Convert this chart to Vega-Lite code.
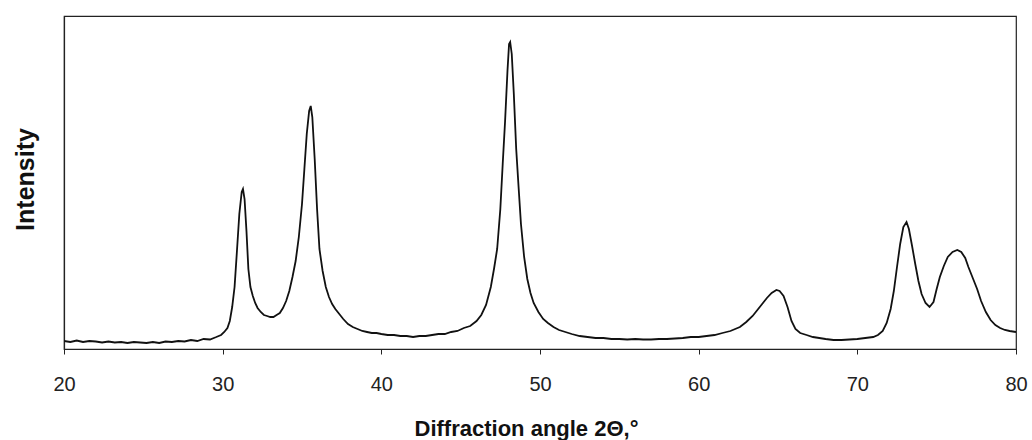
{
  "$schema": "https://vega.github.io/schema/vega-lite/v6.json",
  "width": 952,
  "height": 333,
  "autosize": {"type": "none"},
  "padding": {"left": 64, "top": 16, "right": 16, "bottom": 91},
  "background": "white",
  "config": {
    "view": {"stroke": "#222", "strokeWidth": 1.2},
    "font": "Liberation Sans"
  },
  "data": {
    "values": [
      {"angle": 20.0, "intensity": 8}, {"angle": 20.4, "intensity": 7}, {"angle": 20.8, "intensity": 8.5},
      {"angle": 21.2, "intensity": 7}, {"angle": 21.6, "intensity": 8}, {"angle": 22.0, "intensity": 7.5},
      {"angle": 22.4, "intensity": 6.5}, {"angle": 22.8, "intensity": 7.5}, {"angle": 23.2, "intensity": 6.5},
      {"angle": 23.6, "intensity": 7}, {"angle": 24.0, "intensity": 6}, {"angle": 24.4, "intensity": 7},
      {"angle": 24.8, "intensity": 6.5}, {"angle": 25.2, "intensity": 6}, {"angle": 25.6, "intensity": 7},
      {"angle": 26.0, "intensity": 6}, {"angle": 26.4, "intensity": 7.5}, {"angle": 26.8, "intensity": 7},
      {"angle": 27.2, "intensity": 8}, {"angle": 27.6, "intensity": 7.5}, {"angle": 28.0, "intensity": 9},
      {"angle": 28.4, "intensity": 8}, {"angle": 28.8, "intensity": 10}, {"angle": 29.2, "intensity": 9.5},
      {"angle": 29.6, "intensity": 12}, {"angle": 29.9, "intensity": 14}, {"angle": 30.1, "intensity": 17},
      {"angle": 30.3, "intensity": 21}, {"angle": 30.45, "intensity": 28}, {"angle": 30.6, "intensity": 42},
      {"angle": 30.75, "intensity": 62}, {"angle": 30.9, "intensity": 98}, {"angle": 31.05, "intensity": 135},
      {"angle": 31.2, "intensity": 157}, {"angle": 31.28, "intensity": 160}, {"angle": 31.38, "intensity": 150},
      {"angle": 31.5, "intensity": 118}, {"angle": 31.62, "intensity": 80}, {"angle": 31.75, "intensity": 62},
      {"angle": 31.9, "intensity": 53}, {"angle": 32.05, "intensity": 46}, {"angle": 32.2, "intensity": 41},
      {"angle": 32.4, "intensity": 37}, {"angle": 32.6, "intensity": 34}, {"angle": 32.8, "intensity": 33},
      {"angle": 33.0, "intensity": 32}, {"angle": 33.2, "intensity": 32}, {"angle": 33.4, "intensity": 34},
      {"angle": 33.6, "intensity": 36}, {"angle": 33.8, "intensity": 41}, {"angle": 34.0, "intensity": 48},
      {"angle": 34.2, "intensity": 58}, {"angle": 34.4, "intensity": 72}, {"angle": 34.6, "intensity": 88},
      {"angle": 34.8, "intensity": 112}, {"angle": 35.0, "intensity": 145}, {"angle": 35.15, "intensity": 180},
      {"angle": 35.3, "intensity": 215}, {"angle": 35.45, "intensity": 238}, {"angle": 35.55, "intensity": 243},
      {"angle": 35.65, "intensity": 232}, {"angle": 35.8, "intensity": 190}, {"angle": 35.95, "intensity": 140},
      {"angle": 36.1, "intensity": 100}, {"angle": 36.3, "intensity": 78}, {"angle": 36.5, "intensity": 62},
      {"angle": 36.7, "intensity": 52}, {"angle": 36.9, "intensity": 45}, {"angle": 37.1, "intensity": 40},
      {"angle": 37.3, "intensity": 36}, {"angle": 37.6, "intensity": 30}, {"angle": 37.9, "intensity": 25},
      {"angle": 38.2, "intensity": 22}, {"angle": 38.5, "intensity": 20}, {"angle": 38.8, "intensity": 18},
      {"angle": 39.1, "intensity": 17}, {"angle": 39.4, "intensity": 16}, {"angle": 39.7, "intensity": 16},
      {"angle": 40.0, "intensity": 15}, {"angle": 40.4, "intensity": 14}, {"angle": 40.8, "intensity": 14},
      {"angle": 41.2, "intensity": 13}, {"angle": 41.6, "intensity": 13}, {"angle": 42.0, "intensity": 12},
      {"angle": 42.4, "intensity": 13}, {"angle": 42.8, "intensity": 13}, {"angle": 43.2, "intensity": 14},
      {"angle": 43.6, "intensity": 15}, {"angle": 44.0, "intensity": 15}, {"angle": 44.4, "intensity": 17},
      {"angle": 44.8, "intensity": 18}, {"angle": 45.2, "intensity": 21}, {"angle": 45.6, "intensity": 23},
      {"angle": 46.0, "intensity": 28}, {"angle": 46.3, "intensity": 34}, {"angle": 46.6, "intensity": 44},
      {"angle": 46.9, "intensity": 62}, {"angle": 47.1, "intensity": 80}, {"angle": 47.3, "intensity": 100},
      {"angle": 47.5, "intensity": 140}, {"angle": 47.65, "intensity": 185}, {"angle": 47.8, "intensity": 228},
      {"angle": 47.95, "intensity": 278}, {"angle": 48.05, "intensity": 305}, {"angle": 48.12, "intensity": 307},
      {"angle": 48.22, "intensity": 295}, {"angle": 48.35, "intensity": 255}, {"angle": 48.5, "intensity": 200},
      {"angle": 48.65, "intensity": 162}, {"angle": 48.8, "intensity": 125}, {"angle": 49.0, "intensity": 92},
      {"angle": 49.2, "intensity": 70}, {"angle": 49.4, "intensity": 56}, {"angle": 49.6, "intensity": 46},
      {"angle": 49.9, "intensity": 37}, {"angle": 50.2, "intensity": 30}, {"angle": 50.5, "intensity": 26},
      {"angle": 50.85, "intensity": 22}, {"angle": 51.2, "intensity": 19}, {"angle": 51.6, "intensity": 17},
      {"angle": 52.0, "intensity": 15}, {"angle": 52.5, "intensity": 13}, {"angle": 53.0, "intensity": 12},
      {"angle": 53.5, "intensity": 11}, {"angle": 54.0, "intensity": 11}, {"angle": 54.5, "intensity": 10},
      {"angle": 55.0, "intensity": 10}, {"angle": 55.5, "intensity": 9.5}, {"angle": 56.0, "intensity": 10},
      {"angle": 56.5, "intensity": 9.5}, {"angle": 57.0, "intensity": 9.5}, {"angle": 57.5, "intensity": 10},
      {"angle": 58.0, "intensity": 10}, {"angle": 58.5, "intensity": 10.5}, {"angle": 59.0, "intensity": 11},
      {"angle": 59.5, "intensity": 12}, {"angle": 60.0, "intensity": 12}, {"angle": 60.5, "intensity": 13},
      {"angle": 61.0, "intensity": 14}, {"angle": 61.5, "intensity": 16}, {"angle": 62.0, "intensity": 18},
      {"angle": 62.6, "intensity": 22}, {"angle": 63.0, "intensity": 27}, {"angle": 63.4, "intensity": 33},
      {"angle": 63.7, "intensity": 39}, {"angle": 64.0, "intensity": 45}, {"angle": 64.3, "intensity": 51},
      {"angle": 64.6, "intensity": 56}, {"angle": 64.9, "intensity": 59}, {"angle": 65.1, "intensity": 58},
      {"angle": 65.35, "intensity": 53}, {"angle": 65.6, "intensity": 42}, {"angle": 65.85, "intensity": 28},
      {"angle": 66.1, "intensity": 20}, {"angle": 66.4, "intensity": 16}, {"angle": 66.8, "intensity": 14},
      {"angle": 67.2, "intensity": 12}, {"angle": 67.6, "intensity": 11}, {"angle": 68.0, "intensity": 10},
      {"angle": 68.5, "intensity": 9}, {"angle": 69.0, "intensity": 9}, {"angle": 69.5, "intensity": 9.5},
      {"angle": 70.0, "intensity": 10}, {"angle": 70.5, "intensity": 11}, {"angle": 71.0, "intensity": 12},
      {"angle": 71.3, "intensity": 14}, {"angle": 71.6, "intensity": 18}, {"angle": 71.85, "intensity": 26},
      {"angle": 72.1, "intensity": 40}, {"angle": 72.3, "intensity": 58}, {"angle": 72.5, "intensity": 82},
      {"angle": 72.7, "intensity": 105}, {"angle": 72.9, "intensity": 122}, {"angle": 73.1, "intensity": 127},
      {"angle": 73.25, "intensity": 120}, {"angle": 73.45, "intensity": 103}, {"angle": 73.65, "intensity": 85},
      {"angle": 73.85, "intensity": 68}, {"angle": 74.05, "intensity": 55}, {"angle": 74.3, "intensity": 46},
      {"angle": 74.55, "intensity": 42}, {"angle": 74.8, "intensity": 47}, {"angle": 75.0, "intensity": 60},
      {"angle": 75.2, "intensity": 72}, {"angle": 75.45, "intensity": 83}, {"angle": 75.7, "intensity": 92},
      {"angle": 76.0, "intensity": 97}, {"angle": 76.3, "intensity": 99}, {"angle": 76.55, "intensity": 97},
      {"angle": 76.8, "intensity": 91}, {"angle": 77.0, "intensity": 82}, {"angle": 77.3, "intensity": 70},
      {"angle": 77.55, "intensity": 60}, {"angle": 77.8, "intensity": 48}, {"angle": 78.1, "intensity": 37},
      {"angle": 78.4, "intensity": 29}, {"angle": 78.7, "intensity": 24}, {"angle": 79.0, "intensity": 21},
      {"angle": 79.3, "intensity": 19}, {"angle": 79.6, "intensity": 18}, {"angle": 80.0, "intensity": 17}
    ]
  },
  "mark": {"type": "line", "color": "#111", "strokeWidth": 1.8, "clip": true},
  "encoding": {
    "x": {
      "field": "angle",
      "type": "quantitative",
      "scale": {"domain": [20, 80], "nice": false, "zero": false},
      "axis": {
        "values": [20, 30, 40, 50, 60, 70, 80],
        "grid": false,
        "domainColor": "#222",
        "domainWidth": 1.2,
        "tickColor": "#222",
        "tickSize": 5,
        "labelFont": "Liberation Sans",
        "labelFontSize": 20,
        "labelColor": "#222",
        "labelPadding": 20,
        "labelFlush": false,
        "title": "Diffraction angle 2Θ,°",
        "titleFont": "Liberation Sans",
        "titleFontSize": 22,
        "titleFontWeight": "bold",
        "titleColor": "#111",
        "titleX": 462,
        "titleY": 79,
        "titleBaseline": "middle",
        "titleAlign": "center"
      }
    },
    "y": {
      "field": "intensity",
      "type": "quantitative",
      "scale": {"domain": [0, 333], "nice": false},
      "axis": {
        "labels": false,
        "ticks": false,
        "grid": false,
        "domainColor": "#222",
        "domainWidth": 1.2,
        "title": "Intensity",
        "titleFont": "Liberation Sans",
        "titleFontSize": 25,
        "titleFontWeight": "bold",
        "titleColor": "#111",
        "titleAngle": -90,
        "titleX": -39,
        "titleY": 163,
        "titleBaseline": "middle",
        "titleAlign": "center"
      }
    }
  }
}
